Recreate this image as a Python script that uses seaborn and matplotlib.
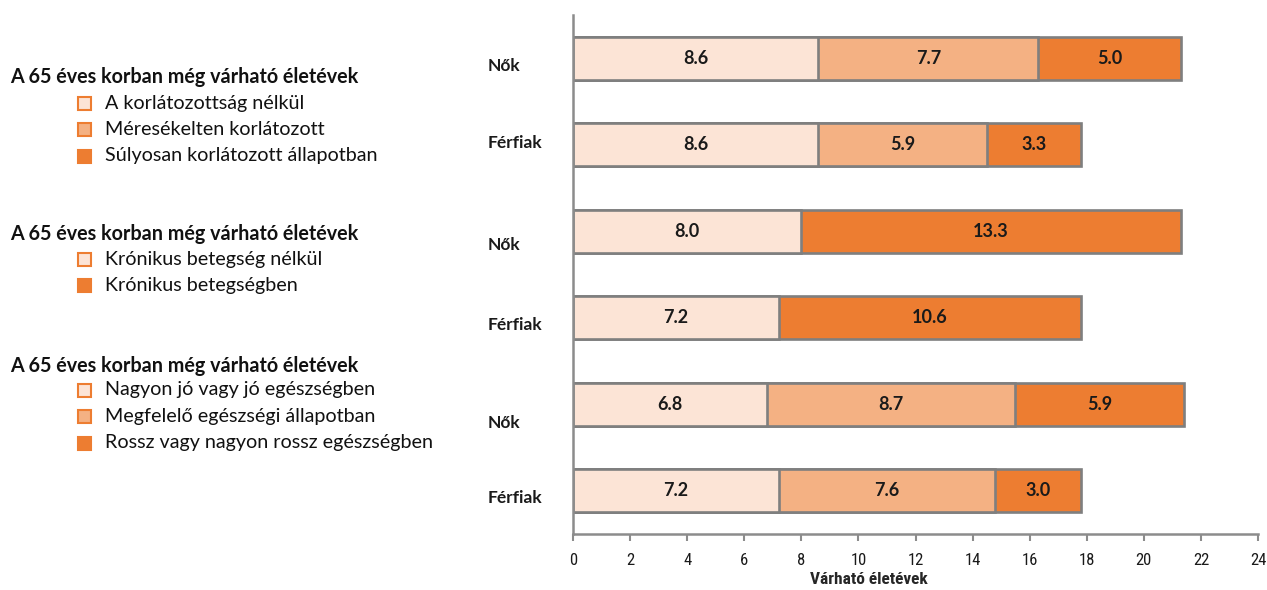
import matplotlib
matplotlib.use("Agg")
import matplotlib.pyplot as plt
from matplotlib.patches import Rectangle
from matplotlib import font_manager
import seaborn as sns
import pandas as pd

# Rows from top to bottom: three comparisons, women / men each
row_labels = ["Nők", "Férfiak", "Nők", "Férfiak", "Nők", "Férfiak"]
seg_light = [8.6, 8.6, 8.0, 7.2, 6.8, 7.2]
seg_mid = [7.7, 5.9, 0.0, 0.0, 8.7, 7.6]
seg_dark = [5.0, 3.3, 13.3, 10.6, 5.9, 3.0]

legend_title = "A 65 éves korban még várható életévek"
legend_groups = [
    ["A korlátozottság nélkül", "Méresékelten korlátozott", "Súlyosan korlátozott állapotban"],
    ["Krónikus betegség nélkül", "Krónikus betegségben"],
    ["Nagyon jó vagy jó egészségben", "Megfelelő egészségi állapotban", "Rossz vagy nagyon rossz egészségben"],
]
x_label = "Várható életévek"
x_ticks = list(range(0, 25, 2))

C_LIGHT = "#FCE4D6"
C_MID = "#F4B183"
C_DARK = "#ED7D31"
EDGE = "#7F7F7F"

sns.set_theme(style="white")
plt.rcParams["font.family"] = ["Lato", "DejaVu Sans"]

# A condensed face for the axis numbers, if one is available
installed = {f.name for f in font_manager.fontManager.ttflist}
narrow = None
for cand in ["Liberation Sans Narrow", "Roboto Condensed", "Open Sans Condensed",
             "DejaVu Sans Condensed"]:
    if cand in installed:
        narrow = cand
        break
axis_family = [narrow, "DejaVu Sans"] if narrow else ["Liberation Sans", "DejaVu Sans"]
axis_stretch = "normal" if narrow else "condensed"

fig = plt.figure(figsize=(12.67, 5.90), dpi=100)
ax = fig.add_axes([573 / 1267, 56 / 590, 685 / 1267, 519 / 590])

row_ids = [f"r{i}" for i in range(len(row_labels))]
df = pd.DataFrame({"row": row_ids, "light": seg_light, "mid": seg_mid, "dark": seg_dark})
df["c1"] = df["light"]
df["c2"] = df["light"] + df["mid"]
df["c3"] = df["light"] + df["mid"] + df["dark"]

# Stack by drawing cumulative totals from the outermost segment inwards
layers = [("c3", C_DARK, df), ("c2", C_MID, df[df["mid"] > 0]), ("c1", C_LIGHT, df)]
for col, color, sub in layers:
    sns.barplot(data=sub, x=col, y="row", order=row_ids, orient="h", color=color,
                width=0.5, edgecolor=EDGE, linewidth=1.9, saturation=1, ax=ax,
                errorbar=None)

# Value labels centred within each segment
for i, r in df.iterrows():
    start = 0.0
    for key in ["light", "mid", "dark"]:
        v = r[key]
        if v > 0:
            ax.text(start + v / 2, i, f"{v:.1f}", ha="center", va="center",
                    fontsize=13, fontweight="bold", color="#1a1a1a")
        start += v

ax.set_xlim(0, 24)
ax.set_ylim(5.5, -0.5)
ax.set_xticks(x_ticks)
ax.set_xticklabels([str(t) for t in x_ticks], fontsize=12,
                   family=axis_family, stretch=axis_stretch)
ax.set_xlabel(x_label, fontsize=12.5, fontweight="bold",
              family=axis_family, stretch=axis_stretch)
ax.xaxis.set_label_coords(0.432, -0.074)
ax.set_ylabel("")
ax.set_yticks([])

# Category labels to the left of each bar
label_offsets = [0.09, -0.02, 0.16, 0.08, 0.22, 0.08]
for i, (lab, off) in enumerate(zip(row_labels, label_offsets)):
    ax.text(-2.98, i + off, lab, ha="left", va="center", fontsize=12.5, fontweight="bold",
            color="#1a1a1a", clip_on=False)

for side in ["top", "right"]:
    ax.spines[side].set_visible(False)
for side in ["left", "bottom"]:
    ax.spines[side].set_color("#8C8C8C")
    ax.spines[side].set_linewidth(1.8)
ax.tick_params(axis="x", bottom=True, length=5, width=1.5, color="#8C8C8C", pad=9,
               labelcolor="#1a1a1a")

# Legend blocks on the left side of the figure
W, H = 1267, 590
title_y = [77, 234, 366]
entry_start = [103, 259, 390]
entry_step = 26.3
group_colors = [[C_LIGHT, C_MID, C_DARK], [C_LIGHT, C_DARK], [C_LIGHT, C_MID, C_DARK]]
for ty, ey, items, cols in zip(title_y, entry_start, legend_groups, group_colors):
    fig.text(10 / W, 1 - ty / H, legend_title, ha="left", va="center",
             fontsize=14.2, fontweight="bold", color="#111111")
    for k, (txt, c) in enumerate(zip(items, cols)):
        y = ey + k * entry_step
        fig.patches.append(Rectangle((78 / W, 1 - (y + 7) / H), 13 / W, 13 / H,
                                     transform=fig.transFigure, facecolor=c,
                                     edgecolor=C_DARK, linewidth=1.5))
        fig.text(105 / W, 1 - y / H, txt, ha="left", va="center",
                 fontsize=14.2, color="#111111")

fig.savefig("out.png", dpi=100, facecolor="white")
